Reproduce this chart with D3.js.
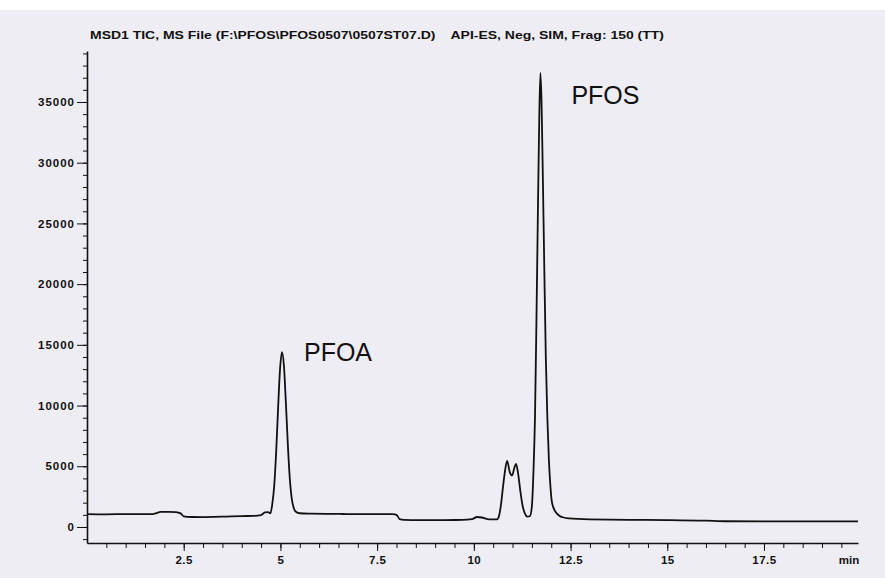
<!DOCTYPE html>
<html>
<head>
<meta charset="utf-8">
<script src="https://cdn.jsdelivr.net/npm/d3@7"></script>
<style>
  body { margin: 0; background: #fff; }
  svg { display: block; }
  .tick text { font-family: "Liberation Sans", Arial, sans-serif; font-weight: bold; font-size: 11.5px; fill: #111; }
  .tick line, .domain { stroke: #111; }
</style>
</head>
<body>
<svg id="chart" width="885" height="578"></svg>
<script>
// retention time (min) and abundance
var tiempos = [0, 0.5, 1.0, 1.5, 1.7, 1.8, 1.9, 2.1, 2.3, 2.42, 2.5, 2.7, 3.0, 3.3, 3.6, 4.0, 4.3, 4.5, 4.6, 4.68, 4.74,
  4.79, 4.84, 4.89, 4.94, 4.99, 5.04, 5.09, 5.14, 5.19, 5.24, 5.29, 5.34, 5.4, 5.5, 5.8, 6.2, 6.6, 7.0, 7.5, 7.9, 8.0, 8.08, 8.2,
  8.6, 9.2, 9.7, 9.95, 10.08, 10.2, 10.4, 10.6, 10.65, 10.7, 10.75, 10.8, 10.86, 10.93, 10.99, 11.05, 11.09, 11.14,
  11.2, 11.26, 11.32, 11.38, 11.45, 11.5, 11.54, 11.58, 11.62, 11.66, 11.69, 11.72, 11.75, 11.78, 11.82, 11.86,
  11.9, 11.94, 11.98, 12.02, 12.1, 12.2, 12.3, 12.45, 13.0, 14.0, 15.0, 16.0, 16.5, 17.5, 18.5, 19.93];
var abundancia = [1050, 1040, 1060, 1050, 1060, 1150, 1240, 1250, 1230, 1120, 880, 820, 810, 830, 860, 900, 910, 980, 1200, 1220, 1120,
  1900, 3400, 6200, 9800, 13000, 14400, 13300, 10300, 6900, 4100, 2400, 1600, 1250, 1130, 1100, 1080, 1070, 1060, 1060, 1050, 1000, 650, 590,
  570, 570, 580, 640, 820, 780, 620, 620, 900, 1800, 3200, 4500, 5450, 4500, 4250, 4900, 5200, 4500,
  3000, 1750, 1100, 850, 900, 1700, 4500, 9000, 17500, 27000, 33500, 37400, 35000, 29500, 21500, 14000,
  9000, 5500, 3300, 2000, 1300, 950, 800, 700, 620, 590, 570, 520, 470, 460, 460, 460];

var ticksX = [2.5, 5, 7.5, 10, 12.5, 15, 17.5];
var etiquetasX = ["2.5", "5", "7.5", "10", "12.5", "15", "17.5"];
var ticksY = [0, 5000, 10000, 15000, 20000, 25000, 30000, 35000];
var etiquetasY = ["0", "5000", "10000", "15000", "20000", "25000", "30000", "35000"];
var picos = ["PFOA", "PFOS"];
var picosT = [5.04, 11.72];

var titulo = "MSD1 TIC, MS File (F:\\PFOS\\PFOS0507\\0507ST07.D)    API-ES, Neg, SIM, Frag: 150 (TT)";

var datos = tiempos.map(function(t, i){ return {t: t, v: abundancia[i]}; });

const svg = d3.select("#chart");

svg.append("rect")
    .attr("x", 0).attr("y", 10)
    .attr("width", 885).attr("height", 568)
    .attr("fill", "#efedf4");

const x = d3.scaleLinear()
    .domain([0, 19.93])
    .range([87, 858]);

const y = d3.scaleLinear()
    .domain([-1320, 39200])
    .range([543, 51]);

// minor ticks
svg.append("g")
    .attr("transform", "translate(0,543)")
    .call(d3.axisBottom(x).tickValues(d3.range(0.5, 19.9, 0.5)).tickSize(5).tickSizeOuter(0).tickFormat(""));
svg.append("g")
    .attr("transform", "translate(87,0)")
    .call(d3.axisLeft(y).tickValues(d3.range(-1000, 39001, 1000)).tickSize(4).tickSizeOuter(0).tickFormat(""));

// major ticks
svg.append("g")
    .attr("transform", "translate(0,543)")
    .call(d3.axisBottom(x).tickValues(ticksX).tickSize(8).tickSizeOuter(0).tickPadding(5)
        .tickFormat(function(d, i){ return etiquetasX[i]; }))
    .call(function(g){ g.select(".domain").remove(); })
    .selectAll("text").attr("letter-spacing", "0.5px");

svg.append("g")
    .attr("transform", "translate(87,0)")
    .call(d3.axisLeft(y).tickValues(ticksY).tickSize(10).tickSizeOuter(0).tickPadding(2)
        .tickFormat(function(d, i){ return etiquetasY[i]; }))
    .call(function(g){ g.select(".domain").remove(); })
    .selectAll("text").attr("letter-spacing", "1px");

svg.selectAll(".domain").attr("stroke-width", 1.6);

svg.append("text")
    .attr("x", 849).attr("y", 564)
    .attr("text-anchor", "middle")
    .style("font-family", "Liberation Sans, Arial, sans-serif")
    .style("font-weight", "bold")
    .style("font-size", "11.5px")
    .attr("fill", "#111")
    .text("min");

svg.append("text")
    .attr("x", 90).attr("y", 39)
    .attr("textLength", 574)
    .attr("lengthAdjust", "spacingAndGlyphs")
    .style("white-space", "pre")
    .style("font-family", "Liberation Sans, Arial, sans-serif")
    .style("font-weight", "bold")
    .style("font-size", "10.5px")
    .attr("fill", "#111")
    .text(titulo);

const linea = d3.line()
    .x(function(d){ return x(d.t); })
    .y(function(d){ return y(d.v); })
    .curve(d3.curveMonotoneX);

svg.append("path")
    .datum(datos)
    .attr("fill", "none")
    .attr("stroke", "#111")
    .attr("stroke-width", 1.8)
    .attr("stroke-linejoin", "round")
    .attr("d", linea);

svg.selectAll(".pico")
    .data(picos)
    .enter().append("text")
    .attr("class", "pico")
    .attr("x", function(d, i){ return x(picosT[i]) + 22 + i * 9; })
    .attr("y", function(d, i){ return i == 0 ? 361 : 104; })
    .style("font-family", "Liberation Sans, Arial, sans-serif")
    .style("font-size", "25px")
    .attr("fill", "#111")
    .text(function(d){ return d; });
</script>
</body>
</html>
